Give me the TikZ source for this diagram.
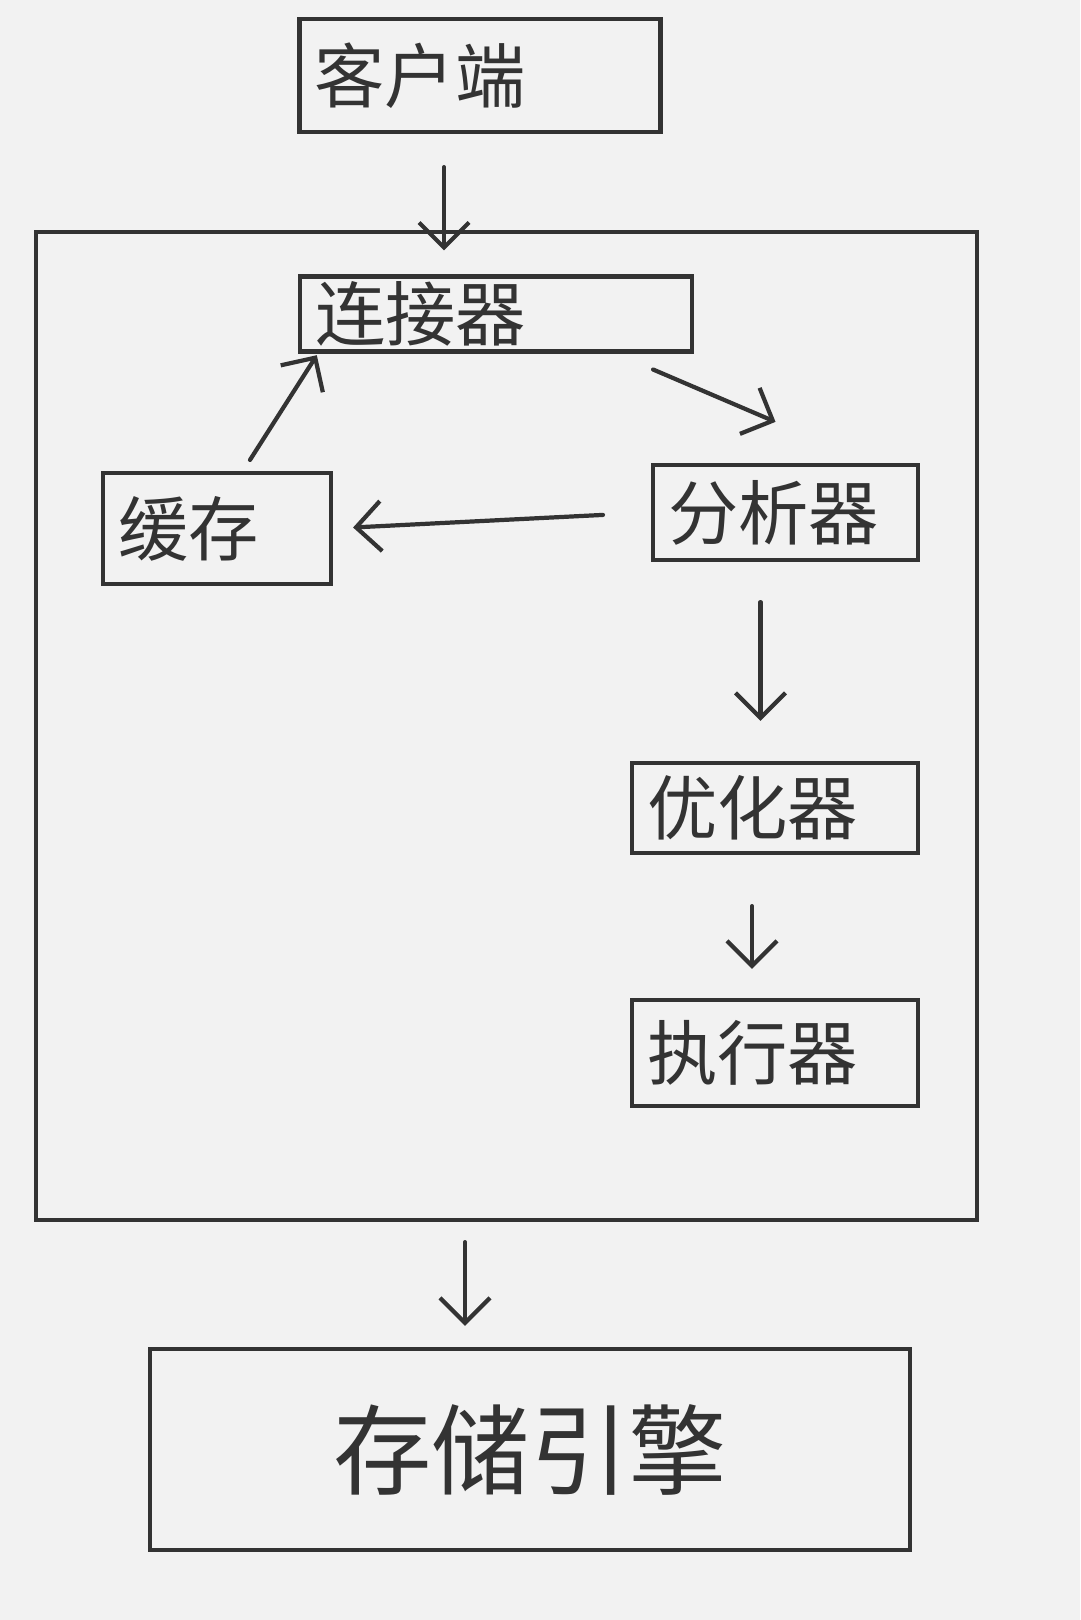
\documentclass[tikz,border=0pt]{standalone}
\usepackage{fontspec}
\newfontfamily\cjk{Noto Sans CJK SC}
\usetikzlibrary{calc, positioning, arrows.meta}
\definecolor{pen}{HTML}{333333}
\definecolor{paper}{HTML}{F2F2F2}
\tikzset{
  box/.style={draw=pen, line width=1.2pt, inner xsep=0.15cm, inner ysep=0.05cm, text=pen,
    font=\cjk\fontsize{20}{24}\selectfont},
  flow/.style={draw=pen, line width=1.2pt, line cap=round, -{Straight Barb[length=2.5mm, width=5mm]}},
}
\begin{document}
\begin{tikzpicture}
  \fill[paper] (0,0) rectangle (10.8,-16.2);
  \useasboundingbox (0,0) rectangle (10.8,-16.2);

  \node[box, minimum width=9.41cm, minimum height=9.88cm] (srv) at (5.065,-7.26) {};
  \node[box, text width=3.31cm, minimum height=1.13cm, align=left] (k) at (4.80,-0.755) {客户端};
  \node[box, text width=3.62cm, minimum height=0.74cm, align=left] (lj) at (4.96,-3.14) {连接器};
  \node[box, text width=1.98cm, minimum height=1.11cm, align=left] (hc) at (2.17,-5.285) {缓存};
  \node[box, text width=2.35cm, minimum height=0.95cm, align=left] (fx) at (7.855,-5.125) {分析器};
  \node[box, text width=2.56cm, minimum height=0.90cm, align=left] (yh) at (7.75,-8.08) {优化器};
  \node[box, text width=2.56cm, minimum height=1.06cm, align=left] (zx) at (7.75,-10.53) {执行器};
  \node[box, minimum width=7.60cm, minimum height=2.01cm, font=\cjk\fontsize{28}{32}\selectfont] (cc) at (5.30,-14.495) {存储引擎};

  \draw[flow, shorten <=0.33cm, shorten >=0.24cm] ([xshift=-0.36cm]k.south) -- ([xshift=-0.36cm]k.south |- lj.north);
  \draw[flow] ($(lj.south east)+(-0.41,-0.16)$) -- ($(fx.north)+(-0.1,0.41)$);
  \draw[flow, shorten <=0.48cm, shorten >=0.2cm] (fx.west) -- (hc.east);
  \draw[flow, shorten <=0.13cm, shorten >=0.02cm] ([xshift=0.26cm]hc.north) -- ([xshift=0.2cm]lj.south west);
  \draw[flow, shorten <=0.4cm, shorten >=0.4cm] ([xshift=-0.25cm]fx.south) -- ([xshift=-0.25cm]fx.south |- yh.north);
  \draw[flow, shorten <=0.51cm, shorten >=0.29cm] ([xshift=-0.23cm]yh.south) -- ([xshift=-0.23cm]yh.south |- zx.north);
  \draw[flow, shorten <=0.2cm, shorten >=0.21cm] ([xshift=-0.415cm]srv.south) -- ([xshift=-0.415cm]srv.south |- cc.north);
\end{tikzpicture}
\end{document}
